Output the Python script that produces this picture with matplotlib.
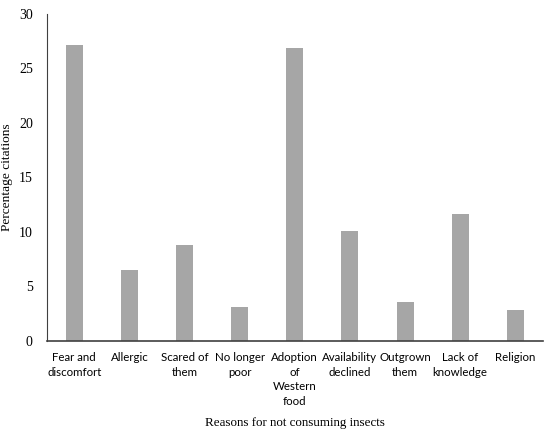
import matplotlib
matplotlib.use("Agg")
import matplotlib.pyplot as plt
import numpy as np

# reasons and percentage of citations
reasons = ["Fear and\ndiscomfort", "Allergic", "Scared of\nthem", "No longer\npoor",
           "Adoption\nof\nWestern\nfood", "Availability\ndeclined", "Outgrown\nthem",
           "Lack of\nknowledge", "Religion"]
percent = [27.1, 6.45, 8.8, 3.1, 26.85, 10.05, 3.6, 11.6, 2.8]
y_ticks = [0, 5, 10, 15, 20, 25, 30]

fig = plt.figure(figsize=(5.5, 4.33), dpi=100)
ax = fig.add_axes([0.085, 0.213, 0.902, 0.755])

x = np.arange(len(reasons))
ax.bar(x, percent, width=0.31, color="#a6a6a6")

ax.set_xlim(-0.5, len(reasons) - 0.5)
ax.set_ylim(0, 30)
ax.set_yticks(y_ticks)
ax.set_yticklabels([str(t) for t in y_ticks], family="Liberation Serif", fontsize=10)
ax.set_xticks(x)
ax.set_xticklabels(reasons, family="Lato", fontsize=8.3, linespacing=1.42)
ax.tick_params(length=0, pad=8)
ax.tick_params(axis="y", pad=10)

for s in ["top", "right"]:
    ax.spines[s].set_visible(False)
ax.spines["left"].set_color("#404040")
ax.spines["bottom"].set_color("#404040")
ax.spines["bottom"].set_linewidth(1.2)

ax.set_ylabel("Percentage citations", family="Liberation Serif", fontsize=9.6, labelpad=4)
ax.set_xlabel("Reasons for not consuming insects", family="Liberation Serif", fontsize=9.4, labelpad=7)

fig.savefig("out.png", dpi=100)
